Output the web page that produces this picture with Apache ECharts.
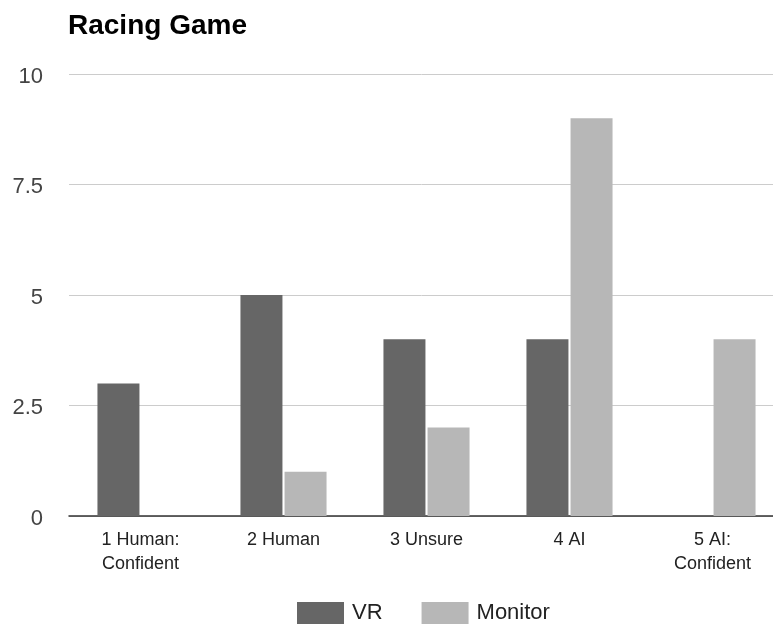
<!DOCTYPE html>
<html>
<head>
<meta charset="utf-8">
<script src="https://cdn.jsdelivr.net/npm/echarts@6/dist/echarts.min.js"></script>
<style>html,body{margin:0;padding:0;background:#fff;}#chart{width:773px;height:624px;}</style>
</head>
<body>
<div id="chart"></div>
<script>
const categories = ['1 Human:\nConfident', '2 Human', '3 Unsure', '4 AI', '5 AI:\nConfident'];
const vrValues = [3, 5, 4, 4, 0];
const monitorValues = [0, 1, 2, 9, 4];
const seriesNames = ['VR', 'Monitor'];

const chart = echarts.init(document.getElementById('chart'), null, {renderer: 'canvas'});
chart.setOption({
  animation: false,
  backgroundColor: '#ffffff',
  title: {
    text: 'Racing Game',
    left: 68, top: 12, padding: 0,
    textStyle: {fontFamily: 'Liberation Sans, Arial', fontSize: 28, fontWeight: 'bold', color: '#000'}
  },
  legend: {
    data: seriesNames,
    left: 297, top: 602, padding: 0,
    icon: 'rect',
    itemWidth: 47, itemHeight: 22,
    itemGap: 39,
    textStyle: {fontFamily: 'Liberation Sans, Arial', fontSize: 22, color: '#222', padding: [0, 0, 0, 3]}
  },
  grid: {left: 69, top: 74, width: 715, height: 442, containLabel: false, outerBoundsMode: 'none'},
  xAxis: {
    type: 'category',
    data: categories,
    axisLine: {show: true, lineStyle: {color: '#333', width: 1.5}},
    axisTick: {show: false},
    axisLabel: {
      interval: 0, margin: 12,
      fontFamily: 'Liberation Sans, Arial', fontSize: 18, lineHeight: 24, color: '#222'
    },
    splitLine: {show: false}
  },
  yAxis: {
    type: 'value',
    min: 0, max: 10, interval: 2.5,
    axisLine: {show: false},
    axisTick: {show: false},
    axisLabel: {
      margin: 26,
      formatter: '{v|{value}}',
      rich: {v: {fontFamily: 'Liberation Sans, Arial', fontSize: 22, color: '#444', padding: [5, 0, 0, 0]}}
    },
    splitLine: {lineStyle: {color: '#cccccc', width: 1}}
  },
  series: [
    {name: seriesNames[0], type: 'bar', data: vrValues, barWidth: 42, barGap: '5%',
     itemStyle: {color: '#666666'}},
    {name: seriesNames[1], type: 'bar', data: monitorValues, barWidth: 42, barGap: '5%',
     itemStyle: {color: '#b7b7b7'}}
  ]
});
</script>
</body>
</html>
